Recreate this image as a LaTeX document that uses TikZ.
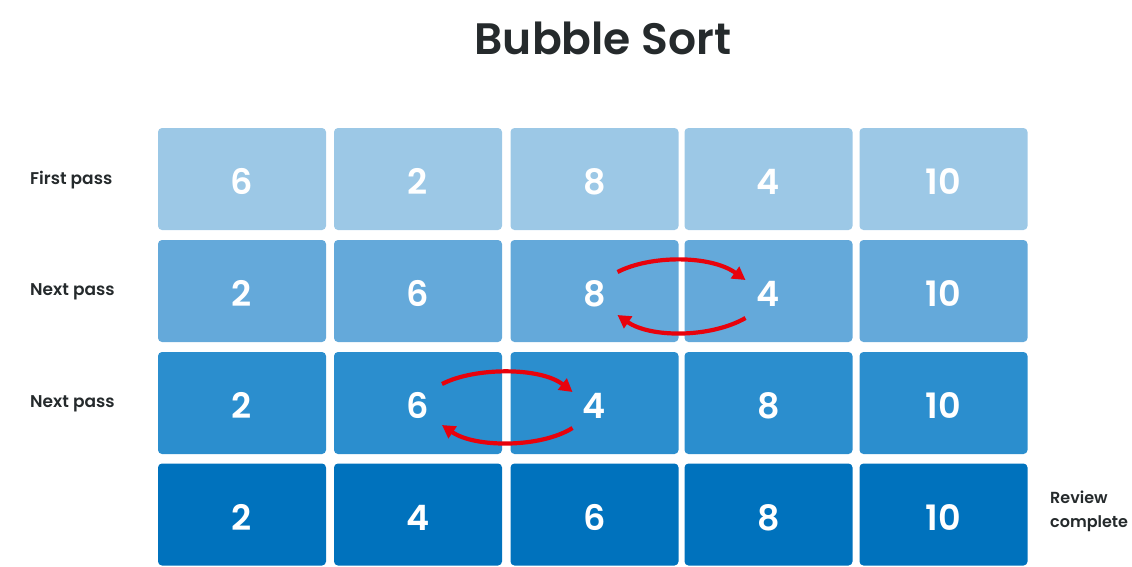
\documentclass[tikz,border=0pt]{standalone}
\usepackage{fontspec}
\setmainfont{Poppins}
\newfontfamily\semib{Poppins SemiBold}
\usetikzlibrary{arrows.meta,calc}
\definecolor{rowA}{HTML}{9CC8E6}
\definecolor{rowB}{HTML}{64A9DA}
\definecolor{rowC}{HTML}{2B8ECE}
\definecolor{rowD}{HTML}{0072BD}
\definecolor{swapred}{HTML}{E8020C}
\definecolor{titlegray}{HTML}{252A2C}
\tikzset{
  cell/.style={rounded corners=4pt, minimum width=168pt, minimum height=102pt,
    inner sep=0pt, text=white, text height=31pt, text depth=0pt, font=\fontsize{35}{38}\semib},
  rowlabel/.style={anchor=west, text=titlegray, font=\fontsize{17}{19}\semib, inner sep=0pt},
  swaparrow/.style={draw=swapred, line width=4.2pt, -{Triangle[length=13pt,width=14pt]}}
}
\begin{document}
\begin{tikzpicture}[x=1pt,y=-1pt]
\useasboundingbox (0,0) rectangle (1132,566);
\node[font=\fontsize{44}{48}\semib, text=titlegray] (title) at (603,38) {Bubble Sort};
% rows
\foreach \r/\y/\col/\a/\b/\c/\d/\e in {1/179/rowA/6/2/8/4/10, 2/291/rowB/2/6/8/4/10, 3/403/rowC/2/6/4/8/10, 4/514.5/rowD/2/4/6/8/10}{
  \node[cell, fill=\col] (c\r1) at (242,\y) {\a};
  \node[cell, fill=\col] (c\r2) at (418,\y) {\b};
  \node[cell, fill=\col] (c\r3) at (594.5,\y) {\c};
  \node[cell, fill=\col] (c\r4) at (768.5,\y) {\d};
  \node[cell, fill=\col] (c\r5) at (943.5,\y) {\e};
}
\node[rowlabel] (l1) at (30,180) {First pass};
\node[rowlabel] (l2) at (30,292) {Next pass};
\node[rowlabel] (l3) at (30,404) {Next pass};
\node[rowlabel, align=left, font=\fontsize{16}{24}\semib] (l4) at (1050,511) {Review\\complete};
% swaps row 2
\draw[swaparrow] ($(c23.center)+(23,-19)$) .. controls +(33,-17) and +(-35,-25) .. ($(c24.center)+(-23,-11)$);
\draw[swaparrow] ($(c24.center)+(-23,27)$) .. controls +(-35,20) and +(33,23) .. ($(c23.center)+(23,24)$);
% swaps row 3
\draw[swaparrow] ($(c32.center)+(24,-19)$) .. controls +(33,-17) and +(-32,-25) .. ($(c33.center)+(-22,-11)$);
\draw[swaparrow] ($(c33.center)+(-22,25)$) .. controls +(-32,20) and +(33,23) .. ($(c32.center)+(24,22)$);
\end{tikzpicture}
\end{document}
